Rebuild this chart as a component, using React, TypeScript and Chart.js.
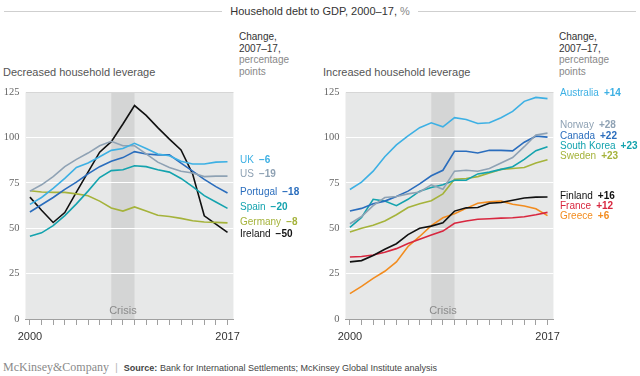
import React, { useEffect, useRef } from "react";
import { Chart, registerables } from "chart.js";

Chart.register(...registerables);

// ---------- data ----------
const YEARS = [2000, 2001, 2002, 2003, 2004, 2005, 2006, 2007, 2008, 2009, 2010, 2011, 2012, 2013, 2014, 2015, 2016, 2017];
const CRISIS_START = 2007;
const CRISIS_END = 2009;
const Y_TICKS = [0, 25, 50, 75, 100, 125];

// Decreased household leverage
const UK = [63.2, 67, 72, 77.5, 83.6, 86, 89.5, 93, 94, 96.9, 94, 91, 90, 87, 85.5, 85.5, 86.5, 86.7];
const US = [70.5, 74, 78.5, 84, 88, 91.5, 95.5, 98, 95.5, 95.5, 91, 86.5, 83.5, 81.5, 80.5, 78.5, 78.8, 78.8];
const PORTUGAL = [59, 63, 67, 71.5, 75.5, 80, 84, 87, 89, 92.3, 91, 90.5, 90.5, 86, 81.5, 77, 73, 69.5];
const SPAIN = [45.6, 47.5, 51.5, 57, 63.5, 70.5, 78, 81.8, 82.3, 84.5, 84, 82.3, 81, 77.5, 73, 68, 64.5, 61];
const GERMANY = [70.7, 70, 69.8, 69.8, 69, 68, 65, 61.2, 59.5, 61.8, 59.5, 57.2, 56.5, 55.5, 54.2, 53.5, 53.3, 53];
const IRELAND = [67.2, 60, 53.2, 58.7, 70, 81, 92, 97.8, 107.5, 117.7, 112.3, 105.5, 99.2, 93.2, 80, 56.9, 52.3, 47.8];

// Increased household leverage
const AUSTRALIA = [71.4, 75.5, 81.5, 89.5, 96, 101, 105.5, 108.2, 106, 111, 110, 107.8, 108.2, 111, 114.5, 120, 122.2, 121.5];
const NORWAY = [52.5, 56.5, 62.5, 67, 67.5, 69, 70, 74, 71.5, 81.5, 82, 81.5, 83, 86, 89, 95, 101.5, 102.5];
const CANADA = [59.5, 61, 63.5, 65, 67.5, 70.5, 74.5, 79, 82, 92.5, 92.5, 91.5, 93, 93, 92.7, 97.5, 100.8, 100.3];
const SOUTH_KOREA = [50.5, 56, 66, 65, 62.5, 66, 70.5, 72.5, 74, 76.5, 76.5, 80, 81, 82.5, 84, 88, 92.8, 95];
const SWEDEN = [48, 50, 51.7, 54, 57.5, 61.5, 63.5, 65.2, 69, 77, 77.5, 78.5, 80.5, 82.5, 83, 83.5, 86, 87.8];
const FINLAND = [31.5, 32.2, 35, 38.5, 41.5, 46.5, 50, 51.2, 53, 59.5, 61.3, 61.5, 63.8, 64.2, 65.5, 66.7, 67.2, 67.3];
const FRANCE = [34.2, 34.5, 35.3, 36.8, 38.8, 41.6, 44, 46.3, 48.5, 52.8, 54, 55, 55.3, 55.6, 55.8, 56.4, 57.5, 58.8];
const GREECE = [14, 18, 22.4, 26.3, 31.5, 40, 45.5, 51.5, 55.8, 58, 61, 63.8, 64.6, 65, 63.3, 62.3, 60.8, 57];

const LEFT_NAMES = ["UK", "US", "Portugal", "Spain", "Germany", "Ireland"];
const LEFT_CHANGES = ["\u22126", "\u221219", "\u221218", "\u221220", "\u22128", "\u221250"];
const RIGHT_NAMES = ["Australia", "Norway", "Canada", "South Korea", "Sweden", "Finland", "France", "Greece"];
const RIGHT_CHANGES = ["+14", "+28", "+22", "+23", "+23", "+16", "+12", "+6"];

// ---------- styles ----------
const C_LIGHTBLUE = "#3db0e4";
const C_GRAYBLUE = "#8fa2b4";
const C_BLUE = "#2a6dbd";
const C_TEAL = "#14a3ae";
const C_OLIVE = "#a5b33b";
const C_BLACK = "#111111";
const C_RED = "#d8273f";
const C_ORANGE = "#f28c1f";

const LEFT_COLORS = [C_LIGHTBLUE, C_GRAYBLUE, C_BLUE, C_TEAL, C_OLIVE, C_BLACK];
const RIGHT_COLORS = [C_LIGHTBLUE, C_GRAYBLUE, C_BLUE, C_TEAL, C_OLIVE, C_BLACK, C_RED, C_ORANGE];
const LEFT_LABEL_TOPS = [160, 174, 192, 207, 222, 234];
const RIGHT_LABEL_TOPS = [93, 125, 136, 146, 156, 196, 206, 216];

const SANS = "'Liberation Sans', Arial, Helvetica, sans-serif";
const SERIF = "'Liberation Serif', 'Times New Roman', serif";

type Series = { data: number[]; color: string };

const bgPlugin = {
  id: "bgPlugin",
  beforeDraw(chart: any) {
    const { ctx, chartArea, scales } = chart;
    const x = scales.x;
    ctx.save();
    ctx.fillStyle = "#e7e8e8";
    ctx.fillRect(chartArea.left, chartArea.top, chartArea.right - chartArea.left, chartArea.bottom - chartArea.top);
    const x0 = x.getPixelForValue(YEARS.indexOf(CRISIS_START));
    const x1 = x.getPixelForValue(YEARS.indexOf(CRISIS_END));
    ctx.fillStyle = "#d4d5d5";
    ctx.fillRect(x0, chartArea.top, x1 - x0, chartArea.bottom - chartArea.top);
    ctx.fillStyle = "#8a8a8a";
    ctx.font = `11px ${SANS}`;
    ctx.textAlign = "center";
    ctx.textBaseline = "middle";
    ctx.fillText("Crisis", (x0 + x1) / 2, chartArea.bottom - 8);
    ctx.restore();
  },
};

function LineChart({ series, left }: { series: Series[]; left: number }) {
  const ref = useRef<HTMLCanvasElement>(null);
  useEffect(() => {
    if (!ref.current) return;
    const chart = new Chart(ref.current, {
      type: "line",
      data: {
        datasets: series.map((s) => ({
          data: s.data.map((v, i) => ({ x: i, y: v })),
          borderColor: s.color,
          backgroundColor: s.color,
          borderWidth: 1.6,
          pointRadius: 0,
          tension: 0,
          fill: false,
        })),
      },
      options: {
        animation: false,
        responsive: false,
        maintainAspectRatio: false,
        events: [],
        layout: { padding: { top: 10, right: 9, left: 0, bottom: 0 } },
        plugins: { legend: { display: false }, tooltip: { enabled: false } },
        scales: {
          x: {
            type: "linear",
            min: -0.38,
            max: YEARS.length - 1 + 0.51,
            afterBuildTicks: (a: any) => {
              a.ticks = YEARS.map((_, i) => ({ value: i }));
            },
            afterFit: (s: any) => {
              s.height = 31;
            },
            grid: { drawOnChartArea: false, drawTicks: true, tickLength: 6, color: "#a0a0a0" },
            border: { display: true, color: "#a0a0a0" },
            ticks: {
              autoSkip: false,
              maxRotation: 0,
              minRotation: 0,
              padding: 5,
              color: "#333",
              font: { family: SANS, size: 11 },
              callback: (v: any) => (v === 0 ? String(YEARS[0]) : v === YEARS.length - 1 ? String(YEARS[YEARS.length - 1]) : ""),
            },
          },
          y: {
            min: 0,
            max: 125,
            afterBuildTicks: (a: any) => {
              a.ticks = Y_TICKS.map((v) => ({ value: v }));
            },
            afterFit: (s: any) => {
              s.width = 25.5;
            },
            grid: {
              drawTicks: false,
              lineWidth: 1,
              color: (c: any) => (c.tick && c.tick.value === 125 ? "#d6d6d6" : c.tick && c.tick.value === 0 ? "rgba(0,0,0,0)" : "#ffffff"),
            },
            border: { display: false },
            ticks: { padding: 6, color: "#666", font: { family: SERIF, size: 10.5 } },
          },
        },
      },
      plugins: [bgPlugin],
    } as any);
    return () => chart.destroy();
  }, []);
  return (
    <canvas
      ref={ref}
      width={245}
      height={270}
      style={{ position: "absolute", left, top: 80, width: 245, height: 270 }}
    />
  );
}

function Labels({ names, changes, colors, tops, left }: { names: string[]; changes: string[]; colors: string[]; tops: number[]; left: number }) {
  return (
    <>
      {names.map((n, i) => (
        <div
          key={n}
          style={{
            position: "absolute",
            left,
            top: tops[i] - 6,
            height: 12,
            lineHeight: "12px",
            fontFamily: SANS,
            fontSize: 10,
            color: colors[i],
            whiteSpace: "nowrap",
          }}
        >
          {n}
          <span style={{ fontWeight: "bold", marginLeft: 5 }}>{changes[i]}</span>
        </div>
      ))}
    </>
  );
}

function ChangeHeader({ left }: { left: number }) {
  const line = { lineHeight: "11.5px", height: 11.5 } as any;
  return (
    <div style={{ position: "absolute", left, top: 31, fontFamily: SANS, fontSize: 10, whiteSpace: "nowrap" }}>
      <div style={{ ...line, color: "#333" }}>Change,</div>
      <div style={{ ...line, color: "#333" }}>2007–17,</div>
      <div style={{ ...line, color: "#888" }}>percentage</div>
      <div style={{ ...line, color: "#888" }}>points</div>
    </div>
  );
}

export default function App() {
  const leftSeries: Series[] = [UK, US, PORTUGAL, SPAIN, GERMANY, IRELAND].map((d, i) => ({ data: d, color: LEFT_COLORS[i] }));
  const rightSeries: Series[] = [AUSTRALIA, NORWAY, CANADA, SOUTH_KOREA, SWEDEN, FINLAND, FRANCE, GREECE].map((d, i) => ({
    data: d,
    color: RIGHT_COLORS[i],
  }));
  return (
    <div style={{ position: "absolute", left: 0, top: 0, width: 640, height: 376, background: "#fff", overflow: "hidden" }}>
      {/* title */}
      <div style={{ position: "absolute", left: 4, top: 11, width: 218, height: 1, background: "#cfcfcf" }} />
      <div style={{ position: "absolute", left: 418, top: 11, width: 218, height: 1, background: "#cfcfcf" }} />
      <div
        style={{
          position: "absolute",
          left: 0,
          width: 640,
          top: 4,
          textAlign: "center",
          fontFamily: SANS,
          fontSize: 11,
          lineHeight: "14px",
          color: "#333",
        }}
      >
        Household debt to GDP, 2000–17, <span style={{ color: "#888" }}>%</span>
      </div>

      {/* subtitles */}
      <div style={{ position: "absolute", left: 3, top: 65, fontFamily: SANS, fontSize: 11, lineHeight: "14px", color: "#555" }}>
        Decreased household leverage
      </div>
      <div style={{ position: "absolute", left: 323, top: 65, fontFamily: SANS, fontSize: 11, lineHeight: "14px", color: "#555" }}>
        Increased household leverage
      </div>
      <ChangeHeader left={239} />
      <ChangeHeader left={559} />

      <LineChart series={leftSeries} left={0} />
      <LineChart series={rightSeries} left={320} />

      <Labels names={LEFT_NAMES} changes={LEFT_CHANGES} colors={LEFT_COLORS} tops={LEFT_LABEL_TOPS} left={240} />
      <Labels names={RIGHT_NAMES} changes={RIGHT_CHANGES} colors={RIGHT_COLORS} tops={RIGHT_LABEL_TOPS} left={560} />

      {/* footer */}
      <div style={{ position: "absolute", left: 3, top: 358, whiteSpace: "nowrap", lineHeight: "16px" }}>
        <span style={{ fontFamily: SERIF, fontSize: 12, color: "#8a8a8a" }}>McKinsey&amp;Company</span>
        <span style={{ fontFamily: SANS, fontSize: 11, color: "#bbb", margin: "0 6px" }}>|</span>
        <span style={{ fontFamily: SANS, fontSize: 9, color: "#444" }}>
          <b>Source:</b> Bank for International Settlements; McKinsey Global Institute analysis
        </span>
      </div>
    </div>
  );
}
